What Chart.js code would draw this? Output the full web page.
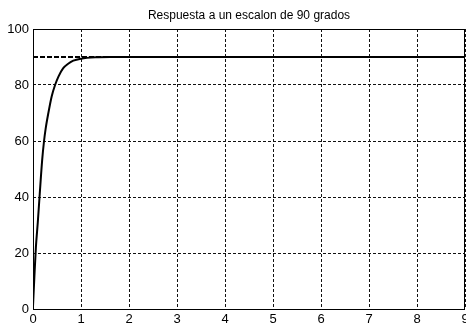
<!DOCTYPE html>
<html>
<head>
<meta charset="utf-8">
<script src="https://cdn.jsdelivr.net/npm/chart.js@4/dist/chart.umd.min.js"></script>
<style>
  html, body { margin: 0; padding: 0; background: #fff; }
  #wrap { width: 466px; height: 326px; }
</style>
</head>
<body>
<div id="wrap"><canvas id="c" width="466" height="326"></canvas></div>
<script>
// Step response of the loop to a 90 degree setpoint
const titleText = 'Respuesta a un escalon de 90 grados';
const timeS = [0, 0.03, 0.06, 0.1, 0.14, 0.19, 0.23, 0.26, 0.32, 0.39, 0.46, 0.53, 0.63, 0.74, 0.84, 1.0, 1.3, 1.6, 2, 3, 4, 5, 6, 7, 8, 9];
const angleDeg = [1, 12, 22, 31, 41, 53, 60, 64, 70, 76, 80, 83, 86, 87.7, 88.7, 89.4, 89.9, 90, 90, 90, 90, 90, 90, 90, 90, 90];
const setpointTime = [0, 9];
const setpointDeg = [90, 90];
const xTicks = [0, 1, 2, 3, 4, 5, 6, 7, 8, 9];
const yTicks = [0, 20, 40, 60, 80, 100];

const toPoints = (xs, ys) => xs.map((x, i) => ({ x, y: ys[i] }));

// plot frame drawn as a solid box around the axes area
const frame = {
  id: 'frame',
  beforeDatasetsDraw(chart) {
    const { ctx, chartArea: a } = chart;
    ctx.save();
    ctx.strokeStyle = '#000';
    ctx.lineWidth = 1;
    ctx.setLineDash([]);
    ctx.strokeRect(Math.round(a.left) + 0.5, Math.round(a.top) + 0.5,
                   Math.round(a.right - a.left) - 1, Math.round(a.bottom - a.top));
    ctx.restore();
  }
};

const font = { family: '"Liberation Sans", Arial, sans-serif', size: 13 };

new Chart(document.getElementById('c'), {
  type: 'line',
  data: {
    datasets: [
      {
        data: toPoints(setpointTime, setpointDeg),
        borderColor: '#000',
        borderWidth: 2,
        borderDash: [5, 2],
        pointRadius: 0,
        tension: 0
      },
      {
        data: toPoints(timeS, angleDeg),
        borderColor: '#000',
        borderWidth: 2,
        pointRadius: 0,
        cubicInterpolationMode: 'monotone'
      }
    ]
  },
  options: {
    responsive: false,
    animation: false,
    events: [],
    layout: { padding: { left: 0, right: 1, top: 0, bottom: 0 } },
    plugins: {
      legend: { display: false },
      tooltip: { enabled: false },
      title: {
        display: true,
        text: titleText,
        fullSize: false,
        color: '#000',
        font: { family: font.family, size: 12, weight: 'normal', lineHeight: '11px' },
        padding: { top: 10, bottom: 8 }
      }
    },
    scales: {
      x: {
        type: 'linear',
        min: 0, max: 9,
        afterBuildTicks(s) { s.ticks = xTicks.map(v => ({ value: v })); },
        afterFit(s) { s.height = 17; s.paddingLeft = 0; s.paddingRight = 0; },
        ticks: { color: '#000', font, padding: 3, maxRotation: 0, autoSkip: false },
        grid: { color: '#111', lineWidth: 1, drawTicks: false },
        border: { display: false, dash: [3, 2] }
      },
      y: {
        type: 'linear',
        min: 0, max: 100,
        afterBuildTicks(s) { s.ticks = yTicks.map(v => ({ value: v })); },
        afterFit(s) { s.width = 33; s.paddingTop = 0; s.paddingBottom = 0; },
        ticks: { color: '#000', font, padding: 4 },
        grid: { color: '#111', lineWidth: 1, drawTicks: false },
        border: { display: false, dash: [3, 2] }
      }
    }
  },
  plugins: [frame]
});
</script>
</body>
</html>
